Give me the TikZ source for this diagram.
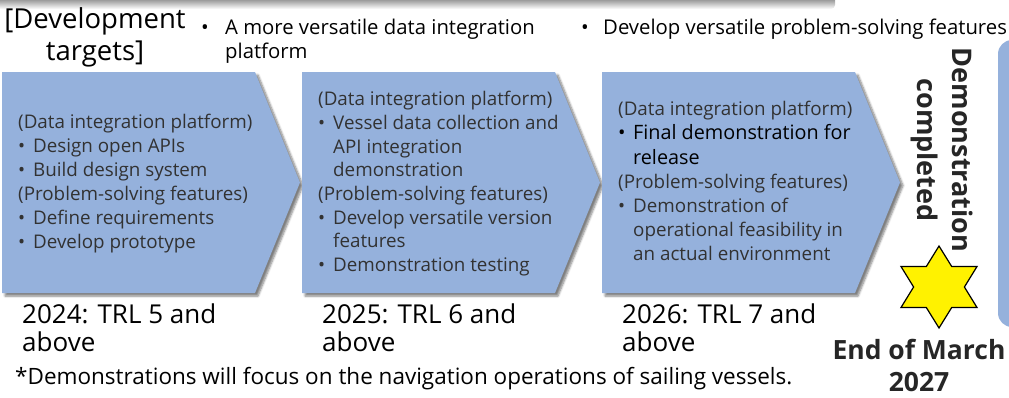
\documentclass[tikz,border=0pt]{standalone}
\usepackage{fontspec}
\setmainfont{Open Sans}
\usetikzlibrary{shadows.blur}
\definecolor{chev}{RGB}{149,177,220}
\definecolor{txt}{RGB}{50,50,50}
\newcommand\cbul{\makebox[15pt][l]{•}}
\newcommand\cind{\hspace*{15pt}}
\begin{document}
\begin{tikzpicture}[x=1pt,y=-1pt,
  chevron/.style={fill=chev, blur shadow={shadow xshift=3pt, shadow yshift=-3pt, shadow blur steps=6, shadow opacity=50}},
  body/.style={font=\fontsize{18.8}{24}\selectfont, text=txt, inner sep=0pt, anchor=mid west},
  head/.style={font=\fontsize{20.3}{24}\selectfont, text=black, inner sep=0pt, anchor=mid west},
  year/.style={font=\fontsize{26}{30}\selectfont, text=black, inner sep=0pt, anchor=mid west},
  boldtxt/.style={font=\bfseries\fontsize{26.5}{32}\selectfont, text=black!85, inner sep=0pt, align=center}
]
\useasboundingbox (0,0) rectangle (1009,397);
% top shadow band
\shade[top color=black!60, bottom color=white, rounded corners=4pt] (-5,-5) rectangle (835,9);
% chevrons
\foreach \L in {2,302,602}
  \path[chevron] (\L,72) -- (\L+253,72) -- (\L+298,182.5) -- (\L+253,293) -- (\L,293) -- cycle;
% right partial box
\fill[chev, rounded corners=14pt] (998,40) rectangle (1040,327);
% header
\node[font=\fontsize{27.5}{32}\selectfont, align=center, inner sep=0pt] (targets) at (95,37) {[Development\\targets]};
\node[head] (b1) at (201,32) {•};
\node[head] (h1a) at (225,32) {A more versatile data integration};
\node[head] (h1b) at (225,56) {platform};
\node[head] (b2) at (581,32) {•};
\node[head] (h2) at (603,32) {Develop versatile problem-solving features};
% chevron texts
\foreach \t [count=\i] in {(Data integration platform),
  \cbul Design open APIs, \cbul Build design system,
  (Problem-solving features), \cbul Define requirements, \cbul Develop prototype}
  \node[body] (ca\i) at (18,126+24*\i-24) {\t};
\foreach \t [count=\i] in {(Data integration platform),
  \cbul Vessel data collection and, \cind API integration, \cind demonstration,
  (Problem-solving features), \cbul Develop versatile version, \cind features,
  \cbul Demonstration testing}
  \node[body] (cb\i) at (318,103+23.7*\i-23.7) {\t};
\foreach \t [count=\i] in {(Data integration platform),
  {\color{black}\fontsize{19.8}{24}\selectfont\cbul Final demonstration for},
  {\color{black}\fontsize{19.8}{24}\selectfont\cind release},
  (Problem-solving features), \cbul Demonstration of,
  \cind operational feasibility in, \cind an actual environment}
  \node[body] (cc\i) at (618,113+24.2*\i-24.2) {\t};
% years
\node[year] (y1a) at (22,321) {2024: TRL 5 and};
\node[year] (y1b) at (22,349) {above};
\node[year] (y2a) at (322,321) {2025: TRL 6 and};
\node[year] (y2b) at (322,349) {above};
\node[year] (y3a) at (622,321) {2026: TRL 7 and};
\node[year] (y3b) at (622,349) {above};
% footnote
\node[year, font=\fontsize{22.5}{24}\selectfont] (foot) at (15,382) {*Demonstrations will focus on the navigation operations of sailing vessels.};
% end of march
\node[boldtxt] (eom) at (919,365) {End of March\\2027};
% demonstration completed
\node[boldtxt, rotate=-90, font=\bfseries\fontsize{27}{35}\selectfont] (demo) at (942,150) {Demonstration\\completed};
% star
\draw[fill=yellow, line width=1.2pt, line join=miter]
  (939,246) -- (951.7,266.5) -- (977,266.5) -- (964.4,287) -- (977,307.5) -- (951.7,307.5)
  -- (939,328) -- (926.3,307.5) -- (901,307.5) -- (913.6,287) -- (901,266.5) -- (926.3,266.5) -- cycle;
\end{tikzpicture}
\end{document}
